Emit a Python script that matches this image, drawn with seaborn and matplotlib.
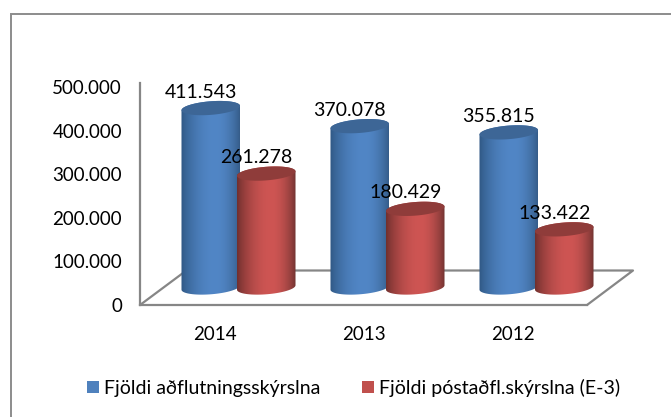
import numpy as np
import pandas as pd
import matplotlib
matplotlib.use("Agg")
import matplotlib.pyplot as plt
from matplotlib.lines import Line2D
from matplotlib.path import Path
from matplotlib.patches import PathPatch, Rectangle
from matplotlib.colors import to_rgb
from matplotlib.ticker import FuncFormatter
import seaborn as sns

years = ["2014", "2013", "2012"]
series_names = ["Fjöldi aðflutningsskýrslna", "Fjöldi póstaðfl.skýrslna (E-3)"]
adflutnings = [411543, 370078, 355815]
postadfl = [261278, 180429, 133422]
labels_blue = ["411.543", "370.078", "355.815"]
labels_red = ["261.278", "180.429", "133.422"]
yticks = [0, 100000, 200000, 300000, 400000, 500000]

W, H = 671, 417
GREY = "#868686"
FONT = "Lato"
sns.set_theme(style="white")
plt.rcParams["font.family"] = [FONT, "DejaVu Sans"]

df = pd.DataFrame({
    "year": years * 2,
    "series": [series_names[0]] * 3 + [series_names[1]] * 3,
    "value": adflutnings + postadfl,
})

fig = plt.figure(figsize=(W / 100, H / 100), dpi=100, facecolor="white")

def px_axes(left, right, top, bottom, **kw):
    return fig.add_axes([left / W, 1 - bottom / H, (right - left) / W, (bottom - top) / H], **kw)

# outer frame: only left and top edges are visible
fig.add_artist(Line2D([11 / W, 11 / W, 1], [0, 1 - 14 / H, 1 - 14 / H], transform=fig.transFigure,
                      color="#8c8c8c", lw=1.4, solid_joinstyle="miter"))

# wall / floor axes
Y_TOP = 83.0
YMAX = 500000 * (305 - Y_TOP) / 218.0
wall = px_axes(140, 587, Y_TOP, 305)
wall.set_xlim(-0.5, 2.5)
wall.set_ylim(0, YMAX)
wall.patch.set_alpha(0)
wall.set_xticks(range(3), years)
wall.set_yticks(yticks)
wall.yaxis.set_major_formatter(FuncFormatter(lambda v, _: f"{int(v):,}".replace(",", ".") if v else "0"))
wall.tick_params(axis="both", length=0, labelcolor="black")
wall.tick_params(axis="x", pad=15, labelsize=13.5)
wall.tick_params(axis="y", pad=13, labelsize=13.5)
for s in ["top", "right"]:
    wall.spines[s].set_visible(False)
for s in ["left", "bottom"]:
    wall.spines[s].set_color(GREY)
    wall.spines[s].set_linewidth(1.6)
# floor outline in axes fractions
dx, dy = 46 / 447, 34.5 / 222
wall.plot([0, 43 / 447], [0, 32 / 222], transform=wall.transAxes, color=GREY, lw=1.6, clip_on=False)
wall.plot([1, 1 + dx, 0.10], [0, dy, dy], transform=wall.transAxes, color=GREY, lw=1.6, clip_on=False)

# bar axes, set back into the floor; extends under the baseline for the round cylinder bases
px_y = 222 / YMAX
BASE_DROP = 17.5   # baseline sits this many pixels above the front floor edge
bar_ax = px_axes(164, 611, Y_TOP - BASE_DROP, 305)
bar_ax.patch.set_alpha(0)
palette = {series_names[0]: "#4f81bd", series_names[1]: "#c0504d"}
sns.barplot(data=df, x="year", y="value", hue="series", order=years, hue_order=series_names,
            palette=palette, width=0.745, gap=0, dodge=True, ax=bar_ax, legend=False)
YMIN = -BASE_DROP / px_y
bar_ax.set_xlim(-0.5, 2.5)
bar_ax.set_ylim(YMIN, YMAX)
bar_ax.axis("off")

def gradient(dark_l, bright, dark_r):
    a, b, c = map(np.array, map(to_rgb, (dark_l, bright, dark_r)))
    t = np.linspace(0, 1, 128)
    g = np.zeros((1, 128, 3))
    for i, u in enumerate(t):
        if u < 0.58:
            k = np.sin(u / 0.58 * np.pi / 2) ** 0.8
            g[0, i] = a + (b - a) * k
        else:
            k = np.sin((1 - u) / 0.42 * np.pi / 2) ** 0.8
            g[0, i] = c + (b - c) * k
    return g

styles = [
    (gradient("#2f5783", "#5186c6", "#355c88"), "#3d6696"),
    (gradient("#6f2f2d", "#ce5553", "#6f3230"), "#8f3c3a"),
]
px_x = 447 / 3.0
ELL_B = 6.8     # half height of the end ellipses, pixels
TILT = 2.2      # rise of the right side, pixels
EXTRA = 1.5     # horizontal growth per side, pixels

def ellipse_pts(cx, cy, a, t):
    return cx + a * np.cos(t), cy + (ELL_B * np.sin(t) + TILT * np.cos(t)) / px_y

for cont, (grad, top_col) in zip(bar_ax.containers, styles):
    for bar in cont:
        bar.set_visible(False)
        a = bar.get_width() / 2 + EXTRA / px_x
        cx = bar.get_x() + bar.get_width() / 2
        h = bar.get_height()
        tb = np.linspace(np.pi, 2 * np.pi, 40)
        tt = np.linspace(0, np.pi, 40)
        xb, yb = ellipse_pts(cx, 0, a, tb)
        xt, yt = ellipse_pts(cx, h, a, tt)
        verts = np.column_stack([np.r_[xb, xt], np.r_[yb, yt]])
        verts = np.vstack([verts, verts[0]])
        codes = [Path.MOVETO] + [Path.LINETO] * (len(verts) - 2) + [Path.CLOSEPOLY]
        body = PathPatch(Path(verts, codes), transform=bar_ax.transData, fc="none", ec="none")
        bar_ax.add_patch(body)
        im = bar_ax.imshow(grad, extent=(cx - a, cx + a, -12 / px_y, h + 12 / px_y), aspect="auto",
                           interpolation="bilinear", zorder=3, origin="lower")
        im.set_clip_path(body)
        tfull = np.linspace(0, 2 * np.pi, 80)
        ex, ey = ellipse_pts(cx, h, a, tfull)
        bar_ax.fill(ex, ey, color=top_col, lw=0, zorder=3.1)
bar_ax.set_xlim(-0.5, 2.5)
bar_ax.set_ylim(YMIN, YMAX)

# value labels
for cont, labs in zip(bar_ax.containers, (labels_blue, labels_red)):
    for bar, lab in zip(cont, labs):
        bar_ax.annotate(lab, (bar.get_x() + bar.get_width() / 2, bar.get_height()),
                        xytext=(-10 * 0.72, 16 * 0.72), textcoords="offset points",
                        ha="center", va="center", fontsize=14, color="black", zorder=5,
                        annotation_clip=False)

# legend
handles = [Rectangle((0, 0), 1, 1, fc=palette[n], ec="none") for n in series_names]
fig.legend(handles, series_names, loc="center", bbox_to_anchor=(353.5 / W, 1 - 388 / H), ncol=2,
           frameon=False, fontsize=14, handlelength=0.6, handleheight=0.6, handletextpad=0.25,
           columnspacing=2.15, labelcolor="black")

fig.savefig("out.png", dpi=100, facecolor="white")
